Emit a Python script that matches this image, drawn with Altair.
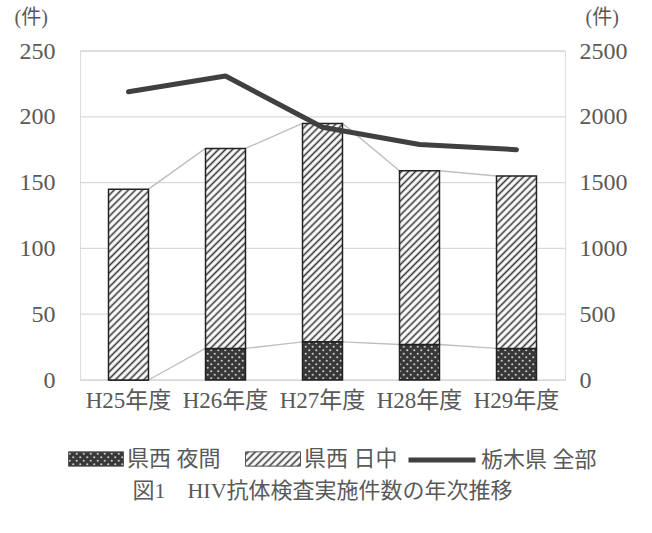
import altair as alt
import pandas as pd
import jinja2

# ---- data -------------------------------------------------------------
years = ["H25年度", "H26年度", "H27年度", "H28年度", "H29年度"]
night = [0, 24, 29, 27, 24]                 # 県西 夜間 (left axis)
day = [145, 152, 166, 132, 131]             # 県西 日中 (left axis)
total = [2190, 2310, 1920, 1790, 1750]      # 栃木県 全部 (right axis)

bar_series = ["県西 夜間", "県西 日中"]
line_series = ["栃木県 全部"]
left_ticks = [0, 50, 100, 150, 200, 250]
right_ticks = [0, 500, 1000, 1500, 2000, 2500]
title_text = "図1　HIV抗体検査実施件数の年次推移"

FONT = "'Liberation Serif', 'Noto Sans CJK JP', serif"
TEXT = "#595959"

# ---- tables -----------------------------------------------------------
bars_df = pd.DataFrame(
    [{"year": y, "series": bar_series[0], "value": n, "ord": 0} for y, n in zip(years, night)]
    + [{"year": y, "series": bar_series[1], "value": d, "ord": 1} for y, d in zip(years, day)]
)

# connector lines between the tops of stacked segments of neighbouring bars
tops_night = night
tops_day = [n + d for n, d in zip(night, day)]
links = []
for i in range(len(years) - 1):
    for tops in (tops_night, tops_day):
        links.append({"from": years[i], "to": years[i + 1], "v0": tops[i], "v1": tops[i + 1]})
links_df = pd.DataFrame(links)

total_df = pd.DataFrame({"year": years, "series": line_series[0], "value": total})
grid_df = pd.DataFrame({"tick": left_ticks})

# ---- shared encodings -------------------------------------------------
x_scale = alt.Scale(domain=years, paddingInner=0.588, paddingOuter=0.294)
x_axis = alt.Axis(title=None, labelAngle=0, ticks=False, domain=False, labelPadding=9,
                  labelFontSize=23, labelFont=FONT, labelColor=TEXT)

legend_common = dict(
    title=None, orient="none", direction="horizontal", labelOffset=3,
    labelFont=FONT, labelFontSize=22, labelColor=TEXT, labelLimit=300,
)

bar_fill = alt.Color(
    "series:N",
    scale=alt.Scale(domain=bar_series, range=["url(#dots)", "url(#hatch)"]),
    legend=alt.Legend(
        columns=2, legendX=-12, legendY=380, symbolSize=3025, columnPadding=22,
        symbolType="M-1,-0.26H1V0.26H-1Z", symbolStrokeColor="#555555",
        symbolStrokeWidth=1, symbolOpacity=1, **legend_common,
    ),
)

line_stroke = alt.Stroke(
    "series:N",
    scale=alt.Scale(domain=line_series, range=["#404040"]),
    legend=alt.Legend(
        legendX=326, legendY=373, symbolSize=4489, symbolType="stroke",
        symbolStrokeWidth=5, symbolOpacity=1, **legend_common,
    ),
)

left_y = alt.Scale(domain=[0, 250], nice=False)
left_axis = alt.Axis(
    values=left_ticks, title="(件)", titleAngle=0, titleX=-66, titleY=-34,
    titleAlign="left", titleBaseline="middle", titleFont=FONT, titleFontSize=20,
    titleFontWeight="normal", titleColor=TEXT, domain=False, ticks=False,
    labelPadding=25, labelFont=FONT, labelFontSize=24, labelColor=TEXT, grid=False,
)

# ---- layers -----------------------------------------------------------
gridlines = alt.Chart(grid_df).mark_rule(color="#d9d9d9", strokeWidth=1.3).encode(
    y=alt.Y("tick:Q", scale=left_y, axis=left_axis),
)

bars = alt.Chart(bars_df).mark_bar(stroke="#222222", strokeWidth=1.5).encode(
    x=alt.X("year:N", scale=x_scale, axis=x_axis),
    y=alt.Y("value:Q", stack="zero", scale=left_y, axis=left_axis),
    color=bar_fill,
    order=alt.Order("ord:Q"),
)

connectors = alt.Chart(links_df).mark_rule(color="#bfbfbf", strokeWidth=1.4).encode(
    x=alt.X("from:N", scale=x_scale, axis=x_axis, bandPosition=1),
    x2=alt.X2("to:N", bandPosition=0),
    y=alt.Y("v0:Q", scale=left_y, axis=left_axis),
    y2=alt.Y2("v1:Q"),
)

total_line = alt.Chart(total_df).mark_line(strokeWidth=5, strokeCap="round", strokeJoin="round").encode(
    x=alt.X("year:N", scale=x_scale, axis=x_axis),
    y=alt.Y(
        "value:Q",
        scale=alt.Scale(domain=[0, 2500], nice=False),
        axis=alt.Axis(
            orient="right", values=right_ticks, title="(件)", titleAngle=0, titleX=20, titleY=-34,
            titleAlign="left", titleBaseline="middle", titleFont=FONT, titleFontSize=20,
            titleFontWeight="normal", titleColor=TEXT, domain=False, ticks=False, grid=False,
            labelPadding=14, labelFont=FONT, labelFontSize=24, labelColor=TEXT, format="d",
        ),
    ),
    stroke=line_stroke,
)

left_part = alt.layer(gridlines, connectors, bars)

chart = (
    alt.layer(left_part, total_line)
    .resolve_scale(y="independent")
    .properties(
        width=485,
        height=329,
        autosize=alt.AutoSizeParams(type="none"),
        padding={"left": 80, "top": 51, "right": 87, "bottom": 153},
        title=alt.TitleParams(
            title_text, orient="bottom", anchor="middle", font=FONT, fontSize=22,
            fontWeight="normal", color=TEXT, offset=10,
        ),
    )
    .configure_view(strokeWidth=0)
    .configure(background="white")
)

# page template that also provides the fill patterns used by the bars
PAGE = jinja2.Template("""<!DOCTYPE html>
<html>
<head>
<meta charset="utf-8">
<style>body { margin: 0; }</style>
<script type="text/javascript" src="{{ base_url }}/vega@{{ vega_version }}"></script>
<script type="text/javascript" src="{{ base_url }}/vega-lite@{{ vegalite_version }}"></script>
<script type="text/javascript" src="{{ base_url }}/vega-embed@{{ vegaembed_version }}"></script>
</head>
<body>
<svg width="0" height="0" style="position:absolute;left:0;top:0">
  <defs>
    <pattern id="hatch" patternUnits="userSpaceOnUse" width="5" height="5" patternTransform="rotate(45)">
      <rect width="5" height="5" fill="#ffffff"/>
      <line x1="2.5" y1="0" x2="2.5" y2="5" stroke="#333333" stroke-width="1.6"/>
    </pattern>
    <pattern id="dots" patternUnits="userSpaceOnUse" width="7" height="7">
      <rect width="7" height="7" fill="#383838"/>
      <circle cx="1.75" cy="1.75" r="1.1" fill="#c8c8c8"/>
      <circle cx="5.25" cy="5.25" r="1.1" fill="#c8c8c8"/>
    </pattern>
  </defs>
</svg>
<div id="{{ output_div }}"></div>
<script>
  vegaEmbed("#{{ output_div }}", {{ spec }}, {{ embed_options }}).catch(function (e) { console.error(e); });
</script>
</body>
</html>
""")

chart.save("out.html", embed_options={"renderer": "svg", "actions": False}, template=PAGE)
